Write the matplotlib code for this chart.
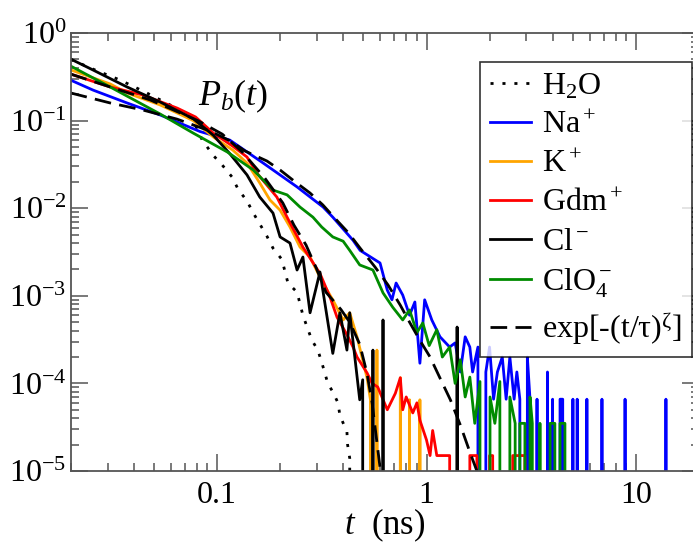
import numpy as np
import matplotlib
matplotlib.use('Agg')
import matplotlib.pyplot as plt
from matplotlib.ticker import FixedLocator, FixedFormatter, LogLocator, NullFormatter

# (t in ns, P_b(t)); 0 means no count in that bin
h2o = [(0.02, 0.5), (0.0262, 0.378), (0.0345, 0.29), (0.0453, 0.212), (0.06, 0.15),
       (0.077, 0.1), (0.085, 0.06), (0.096, 0.04), (0.106, 0.031), (0.118, 0.0227),
       (0.126, 0.0165), (0.139, 0.0121), (0.149, 0.0088), (0.16, 0.0066), (0.173, 0.0048),
       (0.185, 0.0035), (0.204, 0.0026), (0.211, 0.0019), (0.218, 0.0014), (0.241, 0.0011),
       (0.249, 0.00081), (0.257, 0.0006), (0.27, 0.00043), (0.284, 0.00031), (0.303, 0.00024),
       (0.317, 0.00017), (0.338, 0.0001), (0.357, 8e-5), (0.378, 6e-5), (0.386, 4.3e-5),
       (0.417, 2.8e-5), (0.42, 2e-5), (0.43, 1.4e-5), (0.44, 0)]

na = [(0.02, 0.29), (0.0256, 0.223), (0.0372, 0.159), (0.0535, 0.116), (0.083, 0.075),
      (0.115, 0.060), (0.166, 0.0328), (0.241, 0.0175), (0.321, 0.0103), (0.357, 0.0079),
      (0.446, 0.0043), (0.482, 0.0033), (0.60, 0.00237), (0.65, 0.00116), (0.684, 0.0009),
      (0.716, 0.0014), (0.77, 0.00102), (0.83, 0.0006), (0.88, 0.00085), (0.93, 0.00017),
      (0.98, 0.0009), (1.06, 0.00053), (1.16, 0.00034), (1.29, 0.00026), (1.37, 0.00029),
      (1.45, 0.000135), (1.53, 0.00034), (1.61, 0.00026), (1.66, 0.000135), (1.76, 0.00026),
      (1.82, 0), (1.92, 0.000135), (2.0, 0.00026), (2.09, 6.6e-5), (2.18, 0.000135),
      (2.3, 0.0002), (2.4, 6.6e-5), (2.5, 0.0002), (2.62, 6.6e-5), (2.7, 0.000135),
      (2.79, 6.6e-5), (2.9, 0), (3.03, 0.0002), (3.12, 6.6e-5), (3.2, 0), (3.37, 6.6e-5),
      (3.48, 0), (3.78, 0.000135), (3.89, 0), (4.0, 6.6e-5), (4.2, 0), (4.34, 6.6e-5),
      (4.47, 6.6e-5), (4.64, 0), (5.0, 6.6e-5), (5.05, 0), (5.2, 0), (5.24, 6.6e-5),
      (5.28, 0), (5.79, 0), (5.83, 6.6e-5), (5.87, 0), (6.84, 0), (6.88, 6.6e-5), (6.92, 0),
      (8.83, 0), (8.87, 6.6e-5), (8.91, 0), (13.85, 0), (13.9, 6.6e-5), (13.95, 0)]

k = [(0.02, 0.38), (0.0309, 0.262), (0.0372, 0.207), (0.0535, 0.151), (0.077, 0.1),
     (0.096, 0.065), (0.119, 0.046), (0.139, 0.0328), (0.16, 0.0194), (0.179, 0.0124),
     (0.2, 0.0095), (0.223, 0.0061), (0.249, 0.0036), (0.278, 0.00277), (0.32, 0.0014),
     (0.357, 0.0009), (0.40, 0.00053), (0.43, 0.00064), (0.466, 0.00034), (0.52, 0.000116),
     (0.54, 6.5e-5), (0.55, 0), (0.58, 0.00024), (0.60, 0), (0.74, 0), (0.75, 0.000116),
     (0.77, 0), (0.82, 0), (0.83, 6.5e-5), (0.86, 0), (0.92, 0), (0.93, 6.5e-5), (0.96, 0)]

gdm = [(0.02, 0.34), (0.0309, 0.242), (0.0443, 0.196), (0.0645, 0.139), (0.079, 0.11),
       (0.096, 0.072), (0.119, 0.051), (0.139, 0.0384), (0.155, 0.0252), (0.193, 0.0134),
       (0.223, 0.0068), (0.257, 0.0036), (0.31, 0.0018), (0.346, 0.00097), (0.374, 0.00057),
       (0.417, 0.00036), (0.446, 0.00026), (0.466, 0.0002), (0.52, 0.000132), (0.55, 0.0001),
       (0.585, 9.1e-5), (0.65, 5e-5), (0.71, 7.7e-5), (0.75, 0.000116), (0.77, 5e-5),
       (0.80, 7e-5), (0.86, 4.6e-5), (0.90, 6e-5), (0.93, 3.8e-5), (1.0, 2.26e-5),
       (1.04, 1.5e-5), (1.07, 2.9e-5), (1.12, 1.5e-5), (1.29, 1.5e-5), (1.36, 0),
       (1.61, 1.5e-5), (1.74, 1.5e-5), (1.8, 0), (2.0, 1.5e-5), (2.07, 1.5e-5), (2.15, 0),
       (2.58, 1.5e-5), (2.95, 1.5e-5), (3.05, 0)]

cl = [(0.02, 0.505), (0.0256, 0.378), (0.0372, 0.242), (0.0535, 0.163), (0.077, 0.105),
      (0.096, 0.068), (0.115, 0.042), (0.139, 0.024), (0.16, 0.0134), (0.185, 0.0088),
      (0.2, 0.0047), (0.223, 0.004), (0.241, 0.00197), (0.257, 0.00277), (0.278, 0.00064),
      (0.31, 0.00187), (0.357, 0.00022), (0.386, 0.00064), (0.417, 0.00024), (0.43, 0.00064),
      (0.48, 6.5e-5), (0.496, 0.00011), (0.52, 0), (0.555, 0.00024), (0.585, 0),
      (0.62, 0.00053), (0.65, 0), (1.38, 0), (1.40, 0.00044), (1.42, 0)]

clo4 = [(0.02, 0.42), (0.0309, 0.242), (0.0535, 0.119), (0.077, 0.072), (0.112, 0.0438),
        (0.149, 0.0273), (0.185, 0.0161), (0.216, 0.0142), (0.249, 0.0103), (0.287, 0.0079),
        (0.316, 0.0061), (0.357, 0.0047), (0.40, 0.0042), (0.43, 0.0033), (0.48, 0.00225),
        (0.555, 0.00197), (0.62, 0.00108), (0.69, 0.00074), (0.77, 0.00053), (0.83, 0.00069),
        (0.90, 0.00038), (0.96, 0.00049), (1.03, 0.00027), (1.12, 0.00041), (1.19, 0.0002),
        (1.29, 0.00026), (1.37, 0.0001), (1.45, 0.000186), (1.53, 7e-5), (1.61, 0.000118),
        (1.70, 3.5e-5), (1.80, 0.000105), (1.90, 0), (2.01, 7e-5), (2.12, 3.5e-5),
        (2.24, 0.000105), (2.37, 0), (2.5, 7e-5), (2.65, 3.5e-5), (2.72, 0), (2.79, 3.5e-5),
        (2.95, 3.5e-5), (3.03, 0), (3.12, 7e-5), (3.2, 3.5e-5), (3.35, 0), (3.48, 3.5e-5),
        (3.6, 0), (3.89, 3.5e-5), (4.1, 3.5e-5), (4.2, 0), (4.34, 3.5e-5), (4.58, 3.5e-5),
        (4.73, 0)]

# stretched exponential fits
fit_na = [(0.02, 0.207), (0.0309, 0.159), (0.0443, 0.132), (0.0644, 0.104), (0.0926, 0.076),
          (0.115, 0.059), (0.136, 0.045), (0.173, 0.0346), (0.2, 0.0273), (0.236, 0.020),
          (0.278, 0.0149), (0.32, 0.0109), (0.365, 0.0077), (0.422, 0.0053), (0.482, 0.0035),
          (0.568, 0.00213), (0.655, 0.00133), (0.75, 0.00078), (0.83, 0.0005), (0.93, 0.00031),
          (1.04, 0.0002), (1.16, 0.000115), (1.30, 6.5e-5), (1.45, 3.35e-5), (1.61, 1.65e-5),
          (1.74, 1e-5), (1.85, 6e-6)]

fit_gdm = [(0.02, 0.34), (0.0309, 0.242), (0.048, 0.172), (0.062, 0.132), (0.081, 0.1),
           (0.106, 0.070), (0.132, 0.0438), (0.169, 0.0221), (0.206, 0.0115), (0.233, 0.0064),
           (0.266, 0.0038), (0.297, 0.0021), (0.331, 0.0011), (0.39, 0.0007), (0.43, 0.0005),
           (0.48, 0.00028), (0.52, 0.00013), (0.55, 6e-5), (0.575, 2.5e-5), (0.6, 1.1e-5),
           (0.62, 6e-6)]

plt.rcParams['font.family'] = 'serif'
plt.rcParams['font.serif'] = ['Liberation Serif']
plt.rcParams['mathtext.fontset'] = 'custom'
plt.rcParams['mathtext.rm'] = 'Liberation Serif'
plt.rcParams['mathtext.it'] = 'Liberation Serif:italic'
plt.rcParams['mathtext.bf'] = 'Liberation Serif:bold'
plt.rcParams['mathtext.sf'] = 'Liberation Serif'
plt.rcParams['mathtext.default'] = 'regular'
plt.rcParams['axes.unicode_minus'] = False

fig = plt.figure(figsize=(6.93, 5.43), dpi=100)
ax = fig.add_axes([0.1019, 0.1326, 0.9068, 0.8066])
ax.set_xscale('log')
ax.set_yscale('log', nonpositive='clip')

lw = 2.0
dash = (6, 3.0)
dot = (1.1, 3.2)

def xy(series):
    a = np.array(series, dtype=float)
    return a[:, 0], a[:, 1]

ax.plot(*xy(h2o), color='black', lw=lw, dashes=dot, label='H$_2$O')
ax.plot(*xy(na), color='#0000ff', lw=lw, label='Na$^+$')
ax.plot(*xy(k), color='#ffa500', lw=lw, label='K$^+$')
ax.plot(*xy(gdm), color='#ff0000', lw=lw, label='Gdm$^+$')
ax.plot(*xy(cl), color='black', lw=lw, label='Cl$^-$')
ax.plot(*xy(clo4), color='#008b00', lw=lw, label='ClO$_4^-$')
ax.plot(*xy(fit_na), color='black', lw=lw, dashes=dash, label='exp[-(t/τ)$^{ζ}$]')
ax.plot(*xy(fit_gdm), color='black', lw=lw, dashes=dash)

ax.set_xlim(0.02, 20)
ax.set_ylim(1e-5, 1)

frame = '#555555'
for s in ax.spines.values():
    s.set_color(frame)
    s.set_linewidth(1.3)

ax.xaxis.set_major_locator(FixedLocator([0.1, 1, 10]))
ax.xaxis.set_major_formatter(FixedFormatter(['0.1', '1', '10']))
ax.xaxis.set_minor_locator(LogLocator(base=10, subs=np.arange(2, 10), numticks=20))
ax.xaxis.set_minor_formatter(NullFormatter())
ax.yaxis.set_major_locator(LogLocator(base=10, numticks=10))
ax.yaxis.set_minor_locator(LogLocator(base=10, subs=np.arange(2, 10), numticks=20))
ax.yaxis.set_minor_formatter(NullFormatter())
ax.tick_params(which='both', direction='in', top=True, right=True, color=frame, width=1.1)
ax.tick_params(which='major', length=12, labelsize=23, pad=7)
ax.tick_params(which='minor', length=6)
ax.tick_params(axis='y', which='major', pad=3)

ax.set_xlabel('$\\mathit{t}$  (ns)', fontsize=25, labelpad=-2)

ax.text(0.258, 0.856, '$\\mathit{P}_{\\mathit{b}}\\mathit{(t)}$', transform=ax.transAxes,
        fontsize=26, ha='center', va='center')

leg = ax.legend(loc='upper left', bbox_to_anchor=(0.6515, 0.934), borderaxespad=0,
                fontsize=23, frameon=True, fancybox=False, handlelength=1.3,
                handletextpad=0.35, borderpad=0.3, labelspacing=0.3)
leg.get_frame().set_edgecolor('black')
leg.get_frame().set_linewidth(1.2)

fig.savefig('out.png', dpi=100)
